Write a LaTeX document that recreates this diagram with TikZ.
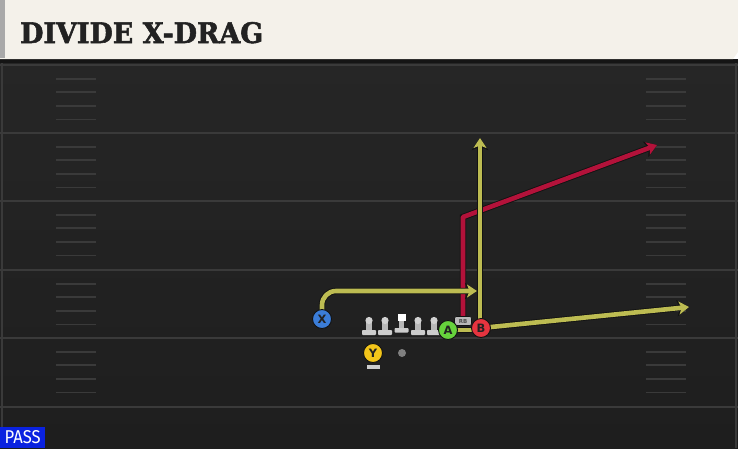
\documentclass[tikz,border=0pt]{standalone}
\usepackage{fontspec}
\usepackage{graphicx}
\usepackage{tikz}
\usetikzlibrary{arrows.meta}
\usetikzlibrary{positioning}

\newfontfamily\titlefont{DejaVu Serif}[FakeBold=2]
\newfontfamily\playerfont{DejaVu Sans}
\newfontfamily\tagfont{Fira Sans}

\definecolor{fieldtop}{HTML}{262626}
\definecolor{fieldbottom}{HTML}{1E1E1E}
\definecolor{bandblack}{HTML}{151515}
\definecolor{yardgray}{HTML}{3A3A3A}
\definecolor{titlecream}{HTML}{F4F1EA}
\definecolor{stripgray}{HTML}{A9A9A9}
\definecolor{titleink}{HTML}{222222}
\definecolor{passblue}{HTML}{0A22E0}
\definecolor{routeyellow}{HTML}{BDBC52}
\definecolor{routered}{HTML}{B3123A}
\definecolor{routeedge}{HTML}{121212}
\definecolor{xblue}{HTML}{3B7DD8}
\definecolor{agreen}{HTML}{66D23C}
\definecolor{bred}{HTML}{E5343F}
\definecolor{yyellow}{HTML}{F3C51A}
\definecolor{pingray}{HTML}{B9B9B9}
\definecolor{headgray}{HTML}{D2D2D2}
\definecolor{basegray}{HTML}{CDCDCD}

\tikzset{
  yardline/.style={draw=yardgray, line width=2pt},
  hashline/.style={draw=yardgray, line width=1.8pt},
  route/.style={line width=4.6pt, line join=round,
    -{Stealth[length=10pt, width=13pt, inset=2.5pt]},
    preaction={draw=routeedge, line width=6.4pt,
      -{Stealth[length=12pt, width=16pt, inset=3pt]}}},
  player/.style={circle, draw=routeedge, line width=0.9pt, minimum size=19pt,
    inner sep=0pt, font=\playerfont\bfseries\fontsize{11.5}{11.5}\selectfont, text=titleink},
  rbtag/.style={draw=routeedge, fill=pingray, rounded corners=2pt, line width=0.6pt,
    minimum width=17pt, minimum height=9pt, inner sep=0pt,
    font=\playerfont\bfseries\fontsize{5.5}{5.5}\selectfont, text=black!70},
  plate/.style={fill=basegray, minimum width=13pt, minimum height=4pt, inner sep=0pt},
  ball/.style={circle, fill=black!50, minimum size=8pt, inner sep=0pt}
}

\begin{document}
\begin{tikzpicture}[x = 1pt, y = -1pt]
  \useasboundingbox (0,0) rectangle (738,448);

  % Field
  \shade[top color=fieldtop, bottom color=fieldbottom] (0,59) rectangle (738,448);
  \fill[bandblack] (0,59) rectangle (738,63);
  \foreach \yy in {65,133,201,270,338,407}
    \draw[yardline] (0,\yy) -- (738,\yy);
  \foreach \yy in {65,133,201,270,338}
    \foreach \k in {1,...,4} {
      \draw[hashline] (56,{\yy+13.6*\k}) -- (96,{\yy+13.6*\k});
      \draw[hashline] (646,{\yy+13.6*\k}) -- (686,{\yy+13.6*\k});
    }
  \draw[yardline] (2,63) -- (2,448);
  \draw[yardline] (736,63) -- (736,448);

  % Title bar
  \fill[titlecream] (0,0) -- (738,0) -- (738,52) -- (733,59) -- (0,59) -- cycle;
  \fill[stripgray] (0,0) rectangle (5,58);
  \node[anchor=base west, inner sep=0pt, text=titleink] (title) at (20,43)
    {\resizebox{243pt}{21pt}{\titlefont\bfseries DIVIDE X-DRAG}};

  % Spots
  \coordinate (xSpot) at (322,319);
  \coordinate (aSpot) at (448,330);
  \coordinate (bSpot) at (481,328);
  \coordinate (ySpot) at (373,353);
  \coordinate (rbSpot) at (463,321);
  \coordinate (xEnd) at (477,291);
  \coordinate (aEnd) at (480,138);
  \coordinate (bEnd) at (689,307);
  \coordinate (rbCut) at (463,217);
  \coordinate (rbEnd) at (657,145);

  % Routes
  \draw[route, draw=routered] (rbSpot) -- (rbCut) -- (rbEnd);
  \draw[route, draw=routeyellow, rounded corners=14pt] (xSpot) |- (xEnd);
  \draw[route, draw=routeyellow] (aSpot) -| (aEnd);
  \draw[route, draw=routeyellow] (bSpot) -- (bEnd);

  % Line
  \foreach \px in {369,385,418,434} {
    \fill[basegray, rounded corners=0.8pt] (\px-7,330) rectangle (\px+7,335);
    \fill[pingray] (\px-2.8,322) rectangle (\px+2.8,330);
    \fill[headgray] (\px,320.5) circle (3.6);
  }
  \fill[basegray, rounded corners=0.8pt] (394.5,328) rectangle (408.5,332.5);
  \fill[pingray] (399,321) rectangle (404,328);
  \fill[white] (397.5,313.5) rectangle (405.5,321);

  % Players
  \node[player, fill=xblue] (X) at (xSpot) {X};
  \node[player, fill=yyellow] (Y) at (ySpot) {Y};
  \node[plate, below=1.5pt of Y] (yPlate) {};
  \node[ball] (ball) at (402,353) {};
  \node[rbtag] (RB) at (rbSpot) {RB};
  \node[player, fill=agreen] (A) at (aSpot) {A};
  \node[player, fill=bred] (B) at (bSpot) {B};

  % Tag
  \node[fill=passblue, anchor=south west, minimum width=45pt, minimum height=21pt,
    inner sep=0pt, text=white] (pass) at (0,448) {\resizebox{36pt}{13pt}{\tagfont PASS}};
\end{tikzpicture}
\end{document}
